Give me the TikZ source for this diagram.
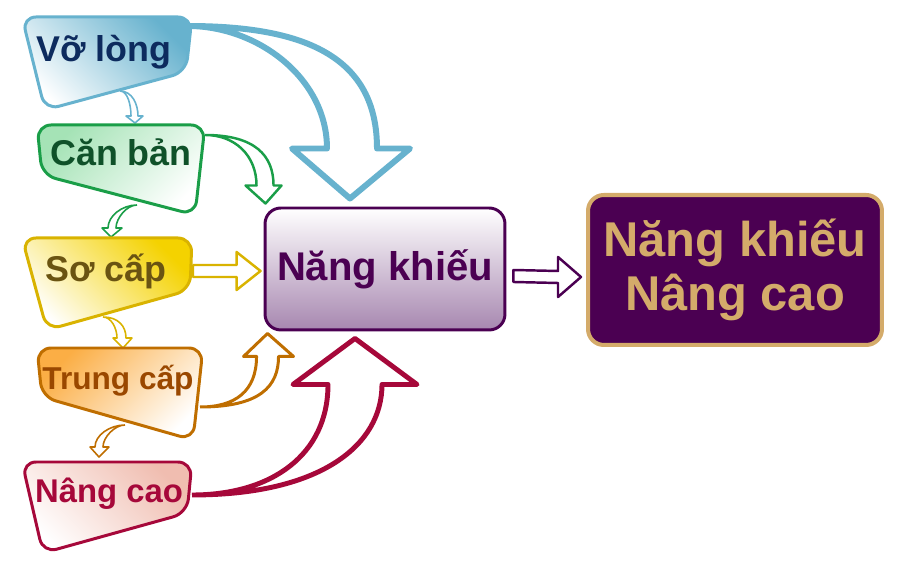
\documentclass[tikz,border=0pt]{standalone}
\usepackage{fontspec}
\setmainfont{Liberation Sans}
\usetikzlibrary{calc}

\definecolor{vlblue}{HTML}{67B2CE}
\definecolor{vltext}{HTML}{0D2B5E}
\definecolor{cbgreen}{HTML}{1A9E48}
\definecolor{cbfill}{HTML}{A5E3B6}
\definecolor{cbtext}{HTML}{0F5129}
\definecolor{scyellow}{HTML}{D9B300}
\definecolor{scfill}{HTML}{F4D200}
\definecolor{sctext}{HTML}{6A5412}
\definecolor{tcorange}{HTML}{BF6E00}
\definecolor{tcfill}{HTML}{FBAE45}
\definecolor{tctext}{HTML}{9A4800}
\definecolor{nccrimson}{HTML}{A6083A}
\definecolor{ncfill}{HTML}{F0BDB0}
\definecolor{nkpurple}{HTML}{4B0052}
\definecolor{nkfill}{HTML}{A787B0}
\definecolor{nktan}{HTML}{D4AB6A}

\tikzset{
  lvlbox/.style 2 args={line width=1.7pt, rounded corners=8pt, draw=#1, top color=#2, bottom color=white},
  lvltext/.style={anchor=base, font=\bfseries\fontsize{20.4}{24}\selectfont},
  blockarrow/.style={draw=#1, fill=white, line join=round},
  smallarrow/.style={blockarrow=#1, line width=0.9pt},
}

\begin{document}
\begin{tikzpicture}[x=0.02cm, y=-0.02cm]
\useasboundingbox (0,0) rectangle (900,573);

% attachment points on the level boxes
\coordinate (vl-out) at (188,26);
\coordinate (vl-down) at (120,91);
\coordinate (cb-in) at (135,123);
\coordinate (cb-out) at (205,135);
\coordinate (cb-down) at (137,205);
\coordinate (sc-in) at (111,237);
\coordinate (sc-out) at (193,271);
\coordinate (sc-down) at (103,317);
\coordinate (tc-in) at (123,348);
\coordinate (tc-out) at (200,407);
\coordinate (tc-down) at (125,425);
\coordinate (nc-in) at (99,457);
\coordinate (nc-out) at (192,495);

% main boxes
\node[draw=nkpurple, line width=1.7pt, rounded corners=9pt, top color=white, bottom color=nkfill,
  minimum width=4.8cm, minimum height=2.44cm, text=nkpurple,
  font=\bfseries\fontsize{22.8}{26}\selectfont] (nk) at (385,269) {Năng khiếu};
\node[draw=nktan, fill=nkpurple, line width=2.3pt, rounded corners=9pt,
  minimum width=5.88cm, minimum height=3cm, text=nktan, align=center,
  font=\bfseries\fontsize{27.8}{31.2}\selectfont] (nkc) at (735,270) {Năng khiếu\\Nâng cao};

% big arrows into Nang khieu
\coordinate (t1) at ($(nk.north)+(-35,-8)$);
\draw[blockarrow=vlblue, line width=3.4pt] (vl-out) .. controls +(120,0) and +(0,-90) .. ($(t1)+(27,-50)$)
  -- ($(t1)+(60,-50)$) -- (t1) -- ($(t1)+(-58,-50)$) -- ($(t1)+(-23,-50)$)
  .. controls +(0,-70) and +(70,0) .. (vl-out);

\coordinate (t2) at ($(nk.north west)+(2,-3)$);
\draw[blockarrow=cbgreen, line width=1.4pt] (cb-out) .. controls +(50,0) and +(0,-30) .. ($(t2)+(8,-18)$)
  -- ($(t2)+(16,-18)$) -- (t2) -- ($(t2)+(-20,-18)$) -- ($(t2)+(-9,-18)$)
  .. controls +(0,-30) and +(30,0) .. (cb-out);

\coordinate (t3) at ($(nk.west)+(-3,2)$);
\draw[blockarrow=scyellow, line width=1.4pt] ($(sc-out)+(0,-6)$) -- ($(t3)+(-24,-6)$) -- ($(t3)+(-24,-19)$)
  -- (t3) -- ($(t3)+(-24,19)$) -- ($(t3)+(-24,6)$) -- ($(sc-out)+(0,6)$) -- cycle;

\coordinate (t4) at ($(nk.south west)+(4,2)$);
\draw[blockarrow=tcorange, line width=1.7pt] (tc-out) .. controls +(60,0) and +(0,30) .. ($(t4)+(11,23)$)
  -- ($(t4)+(26,23)$) -- (t4) -- ($(t4)+(-24,23)$) -- ($(t4)+(-11,23)$)
  .. controls +(0,35) and +(35,0) .. (tc-out);

\coordinate (t5) at ($(nk.south)+(-30,7)$);
\draw[blockarrow=nccrimson, line width=2.8pt] (nc-out) .. controls +(130,0) and +(0,60) .. ($(t5)+(27,46)$)
  -- ($(t5)+(62,46)$) -- (t5) -- ($(t5)+(-62,46)$) -- ($(t5)+(-27,46)$)
  .. controls +(0,70) and +(80,0) .. (nc-out);

% Nang khieu -> Nang khieu Nang cao
\coordinate (s6) at ($(nk.east)+(7,7)$);
\coordinate (t6) at ($(nkc.west)+(-5,7)$);
\draw[blockarrow=nkpurple, line width=1.4pt] ($(s6)+(0,-6)$) -- ($(t6)+(-23,-6)$) -- ($(t6)+(-23,-20)$)
  -- (t6) -- ($(t6)+(-23,20)$) -- ($(t6)+(-23,6)$) -- ($(s6)+(0,6)$) -- cycle;

% small arrows between levels
\draw[smallarrow=vlblue] (vl-down) .. controls +(12,0) and +(0,-12) .. ($(cb-in)+(3,-7)$)
  -- ($(cb-in)+(8,-7)$) -- (cb-in) -- ($(cb-in)+(-9,-7)$) -- ($(cb-in)+(-4,-7)$)
  .. controls +(0,-10) and +(8,0) .. (vl-down);
\draw[smallarrow=cbgreen] (cb-down) .. controls +(-15,0) and +(0,-12) .. ($(sc-in)+(-3,-9)$)
  -- ($(sc-in)+(-9,-9)$) -- (sc-in) -- ($(sc-in)+(11,-9)$) -- ($(sc-in)+(5,-9)$)
  .. controls +(0,-10) and +(-10,0) .. (cb-down);
\draw[smallarrow=scyellow] (sc-down) .. controls +(15,0) and +(0,-12) .. ($(tc-in)+(3,-10)$)
  -- ($(tc-in)+(9,-10)$) -- (tc-in) -- ($(tc-in)+(-10,-10)$) -- ($(tc-in)+(-6,-10)$)
  .. controls +(0,-10) and +(8,0) .. (sc-down);
\draw[smallarrow=tcorange] (tc-down) .. controls +(-15,0) and +(0,-12) .. ($(nc-in)+(-4,-10)$)
  -- ($(nc-in)+(-9,-10)$) -- (nc-in) -- ($(nc-in)+(10,-10)$) -- ($(nc-in)+(4,-10)$)
  .. controls +(0,-10) and +(-10,0) .. (tc-down);

% level boxes
\shadedraw[lvlbox={vlblue}{vlblue}, shading angle=-45] (22,17) -- (192,17) -- (186,72) -- (45,110) -- cycle;
\shadedraw[lvlbox={cbgreen}{cbfill}, shading angle=45] (37,125) -- (205,125) -- (195,215) -- (42,175) -- cycle;
\shadedraw[lvlbox={scyellow}{scfill}, shading angle=-45] (22,238) -- (192,238) -- (190,290) -- (47,330) -- cycle;
\shadedraw[lvlbox={tcorange}{tcfill}, shading angle=45] (37,348) -- (203,348) -- (193,440) -- (42,397) -- cycle;
\shadedraw[lvlbox={nccrimson}{ncfill}, shading angle=-45] (22,462) -- (192,462) -- (187,513) -- (43,553) -- cycle;

\node[lvltext, text=vltext] (vl) at (104,62) {Vỡ lòng};
\node[lvltext, text=cbtext] (cb) at (121,166) {Căn bản};
\node[lvltext, text=sctext] (sc) at (106,282) {Sơ cấp};
\node[lvltext, text=tctext, font=\bfseries\fontsize{18}{22}\selectfont] (tc) at (118,390) {Trung cấp};
\node[lvltext, text=nccrimson, font=\bfseries\fontsize{18.7}{22}\selectfont] (nc) at (109,503) {Nâng cao};

\end{tikzpicture}
\end{document}
